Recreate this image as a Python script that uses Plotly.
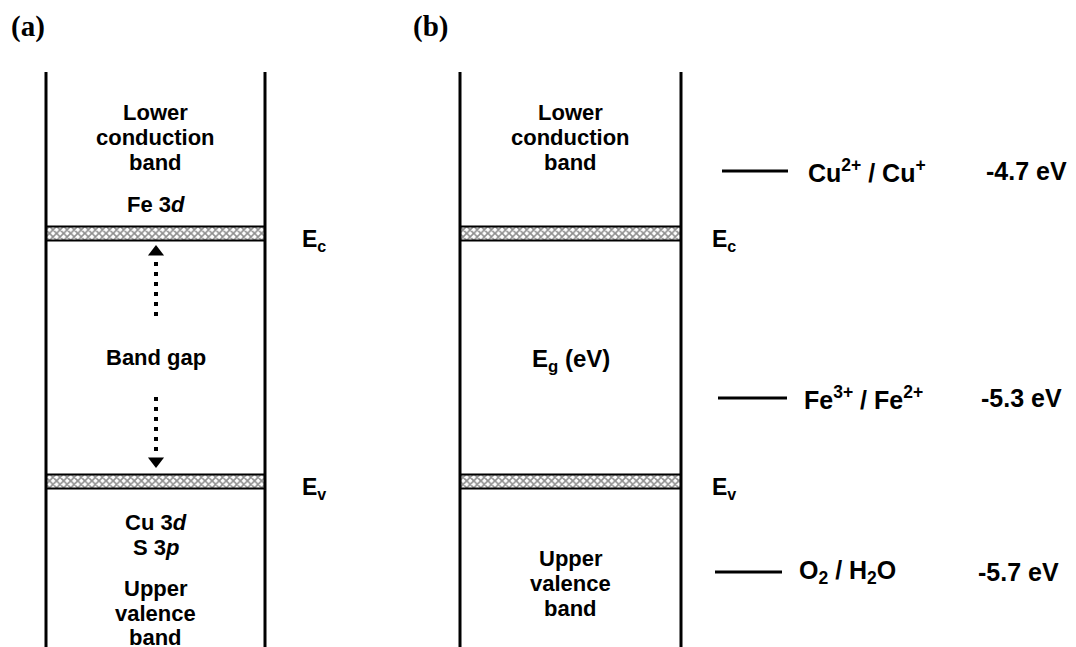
import plotly.graph_objects as go

# ---------------- data (schematic diagram coordinates, y grows downward) ----------------
panel_names = ["(a)", "(b)"]
panel_name_x = [9, 411]
panel_left = [46, 460]
panel_right = [265, 681]
panel_top = 72
panel_bottom = 660

band_levels = ["E<sub>c</sub>", "E<sub>v</sub>"]
band_y = [233.5, 481.5]
band_thickness = 14
band_label_x = [300, 710]

# panel (a) texts
a_texts = ["Lower", "conduction", "band", "Fe 3<i>d</i>", "Band gap",
           "Cu 3<i>d</i>", "S 3<i>p</i>", "Upper", "valence", "band"]
a_text_y = [112, 137, 162, 204, 357, 522, 547, 588, 613, 637]

# panel (b) texts
b_texts = ["Lower", "conduction", "band", "E<sub>g</sub> (eV)", "Upper", "valence", "band"]
b_text_y = [112, 137, 162, 360, 558, 583, 608]

# redox couples
redox_labels = ["Cu<sup>2+</sup> / Cu<sup>+</sup>", "Fe<sup>3+</sup> / Fe<sup>2+</sup>", "O<sub>2</sub> / H<sub>2</sub>O"]
redox_potentials = ["-4.7 eV", "-5.3 eV", "-5.7 eV"]
redox_y = [171, 398, 572]
redox_line_x0 = [722, 718, 715]
redox_line_x1 = [788, 787, 782]
redox_label_x = [806, 802, 797]
redox_value_x = [984, 979, 976]

# arrows in band gap (a)
arrow_x = 156
arrow_up_shaft = [316, 259]
arrow_up_head = 252
arrow_down_shaft = [397, 455]
arrow_down_head = 461

SANS = "Liberation Sans, Arial, sans-serif"
SERIF = "Liberation Serif, Times New Roman, serif"

fig = go.Figure()

# vertical panel walls
for xl, xr in zip(panel_left, panel_right):
    for xv in (xl, xr):
        fig.add_trace(go.Scatter(x=[xv, xv], y=[panel_top, panel_bottom], mode="lines",
                                 line=dict(color="black", width=3), hoverinfo="skip",
                                 showlegend=False))

# hatched band edges
for yv in band_y:
    fig.add_trace(go.Bar(
        orientation="h",
        y=[yv, yv],
        x=[r - l for l, r in zip(panel_left, panel_right)],
        base=panel_left,
        width=band_thickness,
        marker=dict(color="white",
                    pattern=dict(shape="x", fgcolor="#1e1e1e", bgcolor="#ffffff", size=5, solidity=0.55),
                    line=dict(color="black", width=2)),
        showlegend=False, hoverinfo="skip"))

# redox level lines
for x0, x1, yv in zip(redox_line_x0, redox_line_x1, redox_y):
    fig.add_trace(go.Scatter(x=[x0, x1], y=[yv, yv], mode="lines",
                             line=dict(color="black", width=3), hoverinfo="skip",
                             showlegend=False))

# dotted arrows
fig.add_trace(go.Scatter(x=[arrow_x, arrow_x], y=arrow_up_shaft, mode="lines",
                         line=dict(color="black", width=4, dash="4px,6px"),
                         hoverinfo="skip", showlegend=False))
fig.add_trace(go.Scatter(x=[arrow_x, arrow_x], y=arrow_down_shaft, mode="lines",
                         line=dict(color="black", width=4, dash="4px,6px"),
                         hoverinfo="skip", showlegend=False))
fig.add_trace(go.Scatter(x=[arrow_x], y=[arrow_up_head], mode="markers",
                         marker=dict(symbol="triangle-up", size=14, color="black"),
                         hoverinfo="skip", showlegend=False))
fig.add_trace(go.Scatter(x=[arrow_x], y=[arrow_down_head], mode="markers",
                         marker=dict(symbol="triangle-down", size=14, color="black"),
                         hoverinfo="skip", showlegend=False))

ann = []
# panel letters
for name, xv in zip(panel_names, panel_name_x):
    ann.append(dict(x=xv, y=26, text=f"<b>{name}</b>", xanchor="left", yanchor="middle",
                    font=dict(family=SERIF, size=29, color="black")))

# Ec/Ev labels
for xv in band_label_x:
    for lab, yv in zip(band_levels, band_y):
        ann.append(dict(x=xv, y=yv + 7, text=f"<b>{lab}</b>", xanchor="left", yanchor="middle",
                        font=dict(family=SANS, size=23, color="black")))

ca = (panel_left[0] + panel_right[0]) / 2
cb = (panel_left[1] + panel_right[1]) / 2
for t, yv in zip(a_texts, a_text_y):
    ann.append(dict(x=ca, y=yv, text=f"<b>{t}</b>", xanchor="center", yanchor="middle",
                    font=dict(family=SANS, size=22, color="black")))
for t, yv in zip(b_texts, b_text_y):
    ann.append(dict(x=cb, y=yv, text=f"<b>{t}</b>", xanchor="center", yanchor="middle",
                    font=dict(family=SANS, size=24 if "E" in t else 22, color="black")))

for lab, val, yv, xl, xvv in zip(redox_labels, redox_potentials, redox_y, redox_label_x, redox_value_x):
    ann.append(dict(x=xl, y=yv, text=f"<b>{lab}</b>", xanchor="left", yanchor="middle",
                    font=dict(family=SANS, size=25, color="black")))
    ann.append(dict(x=xvv, y=yv, text=f"<b>{val}</b>", xanchor="left", yanchor="middle",
                    font=dict(family=SANS, size=25, color="black")))

for a in ann:
    a.update(xref="x", yref="y", showarrow=False)

fig.update_layout(
    width=1076, height=647,
    margin=dict(l=0, r=0, t=0, b=0),
    paper_bgcolor="white", plot_bgcolor="white",
    barmode="overlay",
    xaxis=dict(range=[0, 1076], visible=False, fixedrange=True),
    yaxis=dict(range=[647, 0], visible=False, fixedrange=True),
    annotations=ann,
    showlegend=False,
)

fig.write_html("out.html")
